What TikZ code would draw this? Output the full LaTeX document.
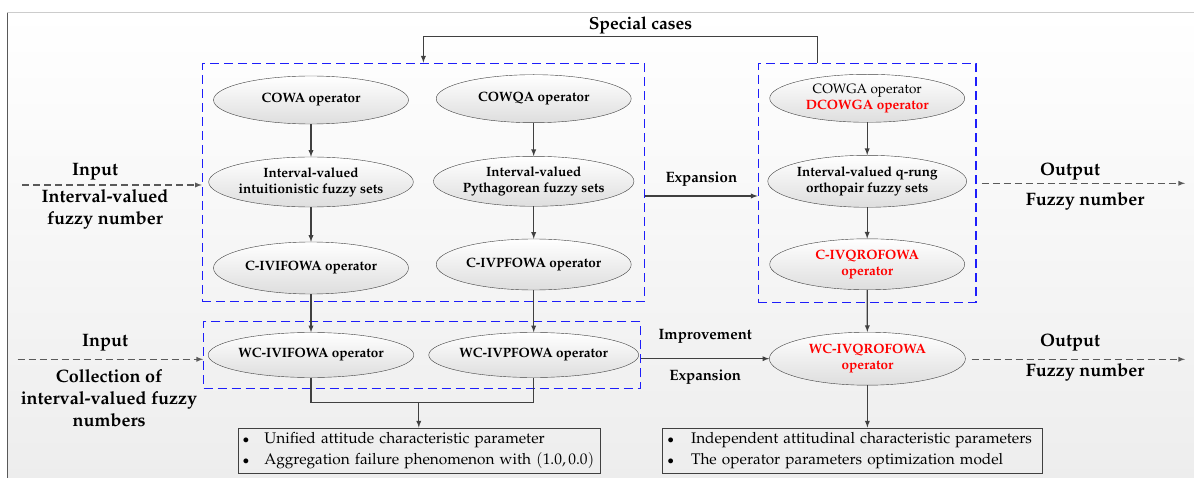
\documentclass[tikz,border=0pt]{standalone}
\usepackage[T1]{fontenc}
\usepackage{mathpazo}
\usetikzlibrary{shapes.geometric,positioning}
\definecolor{linegray}{RGB}{64,64,64}
\definecolor{dashgray}{RGB}{90,90,90}
\definecolor{boxblue}{RGB}{30,30,250}
\definecolor{opred}{RGB}{255,0,0}
\newcommand{\smallbul}{{\fontsize{12}{12}\selectfont$\bullet$}}
\begin{document}
\begin{tikzpicture}[x=1pt, y=-1pt]
\tikzstyle{arrow} 	= [line width = 1.3pt, color = linegray, -latex] % standard arrow
\tikzstyle{dasharrow} 	= [line width = 1.3pt, color = dashgray, dash pattern = on 7pt off 4pt, -latex] % input / output arrow
\tikzstyle{oval} 	= [draw = linegray, ellipse, top color = white, bottom color = black!13, minimum width = 195pt, minimum height = 48pt, inner sep = 0pt, align = center, font = \bfseries\fontsize{13.5}{16}\selectfont] % operator ellipse
\tikzstyle{dashbox} 	= [draw = boxblue, line width = 1.3pt, dash pattern = on 9pt off 5pt, rectangle, inner sep = 0pt] % blue group box
\tikzstyle{infobox} 	= [draw = linegray, rectangle, inner sep = 0pt, align = left, font = \fontsize{15.4}{20.5}\selectfont] % bullet box
\tikzstyle{lbl} 	= [inner sep = 0pt, align = center, text = black, font = \bfseries\fontsize{18}{22}\selectfont] % side label
\tikzstyle{mid} 	= [inner sep = 0pt, text = black, font = \bfseries\fontsize{15}{18}\selectfont] % arrow label

% page and background
\useasboundingbox (0,0) rectangle (1194,478);
\fill[white] (0,0) rectangle (1194,478);
\shade[top color = white, bottom color = black!7] (7,12.7) rectangle (1194,478);
\draw[black!20] (7,12.7) -- (1194,12.7);
\draw[black!65, line width = 1pt] (7,12.7) -- (7,478);

% group boxes
\node(BoxL)[dashbox, minimum width = 442pt, minimum height = 238.4pt] at (423.4,182.5){};
\node(BoxR)[dashbox, minimum width = 217.8pt, minimum height = 239pt] at (867.2,182.8){};
\node(BoxW)[dashbox, minimum width = 437pt, minimum height = 66.6pt] at (422.2,355){};

% operator columns
\node(COWA)[oval] at (311,100){COWA operator};
\node(IVIFS)[oval, below of = COWA, node distance = 82pt, minimum height = 50pt]{Interval-valued\\intuitionistic fuzzy sets};
\node(CIVIFOWA)[oval, below of = IVIFS, node distance = 86pt, minimum height = 52pt]{C-IVIFOWA operator};
\node(COWQA)[oval] at (533.7,98.7){COWQA operator};
\node(IVPFS)[oval, below of = COWQA, node distance = 82.6pt, minimum height = 50pt]{Interval-valued\\Pythagorean fuzzy sets};
\node(CIVPFOWA)[oval, below of = IVPFS, node distance = 83.2pt, minimum height = 51pt]{C-IVPFOWA operator};
\node(COWGA)[oval] at (867.2,98.3){\mdseries COWGA operator\\\textcolor{opred}{DCOWGA operator}};
\node(IVQROFS)[oval, below of = COWGA, node distance = 83pt, minimum height = 52pt]{Interval-valued q-rung\\orthopair fuzzy sets};
\node(CIVQROFOWA)[oval, below of = IVQROFS, node distance = 83pt, minimum height = 51pt, text = opred]{C-IVQROFOWA\\operator};
\node(WCIVIFOWA)[oval, minimum height = 45pt] at (311,355){WC-IVIFOWA operator};
\node(WCIVPFOWA)[oval, right of = WCIVIFOWA, node distance = 222.7pt, minimum height = 45pt]{WC-IVPFOWA operator};
\node(WCIVQROFOWA)[oval, minimum width = 196pt, minimum height = 53pt, text = opred] at (867.4,358.7){WC-IVQROFOWA\\operator};

% bullet boxes
\node(InfoL)[infobox, minimum width = 362pt, minimum height = 45.6pt, text width = 352pt] at (418.8,450.5){\smallbul\hspace{15pt}Unified attitude characteristic parameter\\\smallbul\hspace{15pt}Aggregation failure phenomenon with $(1.0,0.0)$};
\node(InfoR)[infobox, minimum width = 380pt, minimum height = 45.6pt, text width = 370pt] at (852.5,450.5){\smallbul\hspace{17pt}Independent attitudinal characteristic parameters\\\smallbul\hspace{17pt}The operator parameters optimization model};

% arrows inside the columns
\foreach \a/\b in {COWA/IVIFS, IVIFS/CIVIFOWA, COWQA/IVPFS, IVPFS/CIVPFOWA, COWGA/IVQROFS, IVQROFS/CIVQROFOWA, CIVIFOWA/WCIVIFOWA, CIVPFOWA/WCIVPFOWA, CIVQROFOWA/WCIVQROFOWA}
	\draw[arrow] (\a) -- (\b);

% merge to the left bullet box
\coordinate(Mrg) at (InfoL.north |- 0,402.7);
\draw[line width = 1.3pt, color = linegray] (WCIVIFOWA.south) |- (Mrg) -| (WCIVPFOWA.south);
\draw[arrow] (Mrg) -- (InfoL.north);
\draw[arrow] (WCIVQROFOWA.south) -- (WCIVQROFOWA.south |- InfoR.north);

% special cases, expansion, improvement
\node(SC)[mid, font = \bfseries\fontsize{17.5}{20}\selectfont] at (640.5,25){Special cases};
\draw[arrow] ([xshift = -49.4pt]BoxR.north) -- ++(0,-26) -| (BoxL.north);
\draw[arrow] ([yshift = -13.5pt]BoxL.east) -- ([yshift = -13.5pt]BoxL.east -| BoxR.west) node[mid, midway, above = 9pt]{Expansion};
\draw[arrow] (BoxW.east |- WCIVQROFOWA.west) -- (WCIVQROFOWA.west) node[mid, midway, above = 15pt]{Improvement} node[mid, midway, below = 11pt]{Expansion};

% input and output
\coordinate(In1) at (22,185);
\coordinate(In2) at (17.7,359.3);
\coordinate(Out1) at (1185,183.3);
\coordinate(Out2) at (1185,359.3);
\draw[dasharrow] (In1) -- (In1 -| BoxL.west);
\draw[dasharrow] (In2) -- (In2 -| BoxW.west);
\draw[dasharrow] ([xshift = 5pt]BoxR.east |- Out1) -- (Out1);
\draw[dasharrow] ([xshift = 6pt]WCIVQROFOWA.east |- Out2) -- (Out2);
\node(InA)[lbl] at (95,172){Input};
\node(InAText)[lbl] at (105,209){Interval-valued\\fuzzy number};
\node(InB)[lbl] at (105,343){Input};
\node(InBText)[lbl] at (109,398){Collection of\\interval-valued fuzzy\\numbers};
\node(OutA)[lbl] at (1070,172){Output};
\node(OutAText)[lbl] at (1085,201){Fuzzy number};
\node(OutB)[lbl] at (1070,343){Output};
\node(OutBText)[lbl] at (1085,372){Fuzzy number};
\end{tikzpicture}
\end{document}
